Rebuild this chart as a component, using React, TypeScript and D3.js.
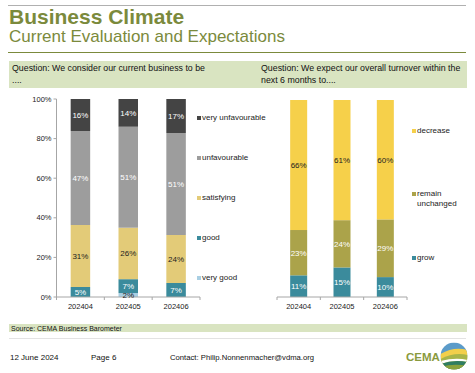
import React from 'react';
import * as d3 from 'd3';

const periods = ['202404', '202405', '202406'];

// current business evaluation (%)
const veryGood = [0, 2, 0];
const good = [5, 7, 7];
const satisfying = [31, 26, 24];
const unfavourable = [47, 51, 51];
const veryUnfavourable = [16, 14, 17];

// turnover expectations (%)
const grow = [11, 15, 10];
const remain = [23, 24, 29];
const decrease = [66, 61, 60];

const yTicks = [0, 0.2, 0.4, 0.6, 0.8, 1];

const OLIVE = '#7b8a3c';
const BAND = '#d9e4c1';
const FONT = 'Liberation Sans, Arial, sans-serif';

type Series = { key: string; label: string[]; values: number[]; color: string; text: string };

const leftSeries: Series[] = [
  { key: 'vg', label: ['very good'], values: veryGood, color: '#a9cfe3', text: '#222' },
  { key: 'g', label: ['good'], values: good, color: '#3b8b9c', text: '#fff' },
  { key: 's', label: ['satisfying'], values: satisfying, color: '#e3cb78', text: '#222' },
  { key: 'u', label: ['unfavourable'], values: unfavourable, color: '#9d9d9d', text: '#fff' },
  { key: 'vu', label: ['very unfavourable'], values: veryUnfavourable, color: '#444444', text: '#fff' },
];

const rightSeries: Series[] = [
  { key: 'gr', label: ['grow'], values: grow, color: '#3b8b9c', text: '#fff' },
  { key: 're', label: ['remain', 'unchanged'], values: remain, color: '#aba34a', text: '#fff' },
  { key: 'de', label: ['decrease'], values: decrease, color: '#f6d04a', text: '#222' },
];

function StackChart(props: {
  series: Series[];
  x0: number; x1: number; top: number; bottom: number;
  barW: number; showY: boolean; legendX: number; legendY: number[];
}) {
  const { series, x0, x1, top, bottom, barW, showY, legendX, legendY } = props;
  const rows = periods.map((p, i) => {
    const r: any = { period: p };
    series.forEach((s) => (r[s.key] = s.values[i]));
    return r;
  });
  const stacked = d3.stack<any>().keys(series.map((s) => s.key)).offset(d3.stackOffsetExpand)(rows);
  const x = d3.scaleBand().domain(periods).range([x0, x1]).padding(0);
  const y = d3.scaleLinear().domain([0, 1]).range([bottom, top]);
  const bounds = [x0, ...periods.map((p) => (x(p) as number) + x.bandwidth())];
  const cxOf = (i: number) => (x(periods[i]) as number) + x.bandwidth() / 2;

  return (
    <g fontFamily={FONT}>
      {stacked.map((layer, li) => (
        <g key={layer.key}>
          {layer.map((d, i) =>
            series[li].values[i] ? (
              <rect key={i} x={cxOf(i) - barW / 2} width={barW} y={y(d[1])} height={y(d[0]) - y(d[1])} fill={series[li].color} />
            ) : null
          )}
        </g>
      ))}
      {showY && (
        <g>
          <line x1={x0} x2={x0} y1={top} y2={bottom} stroke="#a6a6a6" />
          {yTicks.map((t) => (
            <g key={t}>
              <line x1={x0 - 3} x2={x0} y1={y(t)} y2={y(t)} stroke="#a6a6a6" />
              <text x={x0 - 5} y={y(t) + 2.5} textAnchor="end" fontSize={7.5} fill="#222">
                {d3.format('.0%')(t)}
              </text>
            </g>
          ))}
        </g>
      )}
      <line x1={x0} x2={x1} y1={bottom} y2={bottom} stroke="#a6a6a6" />
      {bounds.map((b, i) => (
        <line key={i} x1={b} x2={b} y1={bottom} y2={bottom + 3} stroke="#a6a6a6" />
      ))}
      {stacked.map((layer, li) => (
        <g key={'t' + layer.key}>
          {layer.map((d, i) => {
            const v = series[li].values[i];
            if (!v) return null;
            return (
              <text key={i} x={cxOf(i)} y={(y(d[0]) + y(d[1])) / 2 + 3} textAnchor="middle" fontSize={8} fill={series[li].text}>
                {v}%
              </text>
            );
          })}
        </g>
      ))}
      {periods.map((p, i) => (
        <text key={p} x={cxOf(i)} y={bottom + 12} textAnchor="middle" fontSize={7.5} fill="#222">
          {p}
        </text>
      ))}
      {series.map((s, i) => (
        <g key={s.key}>
          <rect x={legendX} y={legendY[i] - 4} width={4} height={4} fill={s.color} />
          {s.label.map((l, j) => (
            <text key={j} x={legendX + 5} y={legendY[i] + j * 9.5} fontSize={8} fill="#222">
              {l}
            </text>
          ))}
        </g>
      ))}
    </g>
  );
}

function Logo() {
  const cx = 454, cy = 356, r = 13.5;
  return (
    <g>
      <text x={406} y={361} fontFamily={FONT} fontSize={11.5} fontWeight="bold" fill="#8a9a3e">CEMA</text>
      <defs>
        <clipPath id="logoClip"><circle cx={cx} cy={cy} r={r} /></clipPath>
      </defs>
      <g clipPath="url(#logoClip)">
        <rect x={cx - r} y={cy - r} width={2 * r} height={2 * r} fill="#5b9bc9" />
        <path d={`M${cx - r} ${cy - 2} Q${cx} ${cy - 10} ${cx + r} ${cy - 6} L${cx + r} ${cy + r} L${cx - r} ${cy + r}Z`} fill="#f2cf4a" />
        <path d={`M${cx - r} ${cy + 3} Q${cx} ${cy - 4} ${cx + r} ${cy - 1} L${cx + r} ${cy + r} L${cx - r} ${cy + r}Z`} fill="#a9b548" />
        <path d={`M${cx - r} ${cy + 5} Q${cx + 2} ${cy + 1} ${cx + r} ${cy + 4} L${cx + r} ${cy + 6} Q${cx} ${cy + 3} ${cx - r} ${cy + 8}Z`} fill="#ffffff" />
        <path d={`M${cx - r} ${cy + 8} Q${cx} ${cy + 3} ${cx + r} ${cy + 6} L${cx + r} ${cy + r} L${cx - r} ${cy + r}Z`} fill="#2f7d62" />
        <path d={`M${cx - r} ${cy + 11} Q${cx} ${cy + 7} ${cx + r} ${cy + 10} L${cx + r} ${cy + r} L${cx - r} ${cy + r}Z`} fill="#8aa23c" />
      </g>
    </g>
  );
}

export default function App() {
  return (
    <svg width={475} height={373} style={{ position: 'absolute', left: 0, top: 0, background: '#fff' }}>
      <line x1={8} x2={466} y1={5.5} y2={5.5} stroke="#b0b0b0" />
      <text x={9} y={24} fontFamily={FONT} fontSize={21} fontWeight="bold" fill={OLIVE}>Business Climate</text>
      <text x={9} y={42} fontFamily={FONT} fontSize={17} fill={OLIVE}>Current Evaluation and Expectations</text>
      <line x1={8} x2={466} y1={52.5} y2={52.5} stroke={OLIVE} />
      <rect x={9} y={61} width={458} height={27} fill={BAND} />
      <g fontFamily={FONT} fontSize={8.8} fill="#111">
        <text x={12} y={71}>Question: We consider our current business to be</text>
        <text x={12} y={83}>....</text>
        <text x={261} y={71}>Question: We expect our overall turnover within the</text>
        <text x={261} y={83}>next 6 months to....</text>
      </g>
      <StackChart series={leftSeries} x0={56.5} x1={200} top={99} bottom={297} barW={19.5} showY={true}
        legendX={197} legendY={[280, 240, 200, 160, 120]} />
      <StackChart series={rightSeries} x0={277} x1={407} top={100} bottom={297} barW={17} showY={false}
        legendX={412} legendY={[260, 196, 133]} />
      <rect x={9} y={324} width={458} height={8} fill={BAND} />
      <text x={11} y={330.5} fontFamily={FONT} fontSize={7} fill="#111">Source: CEMA Business Barometer</text>
      <line x1={9} x2={466} y1={338.5} y2={338.5} stroke="#e3e3e3" />
      <g fontFamily={FONT} fontSize={8} fill="#111">
        <text x={10} y={360}>12 June 2024</text>
        <text x={91} y={360}>Page 6</text>
        <text x={170} y={360} fontSize={7.7}>Contact: Philip.Nonnenmacher@vdma.org</text>
      </g>
      <Logo />
    </svg>
  );
}
